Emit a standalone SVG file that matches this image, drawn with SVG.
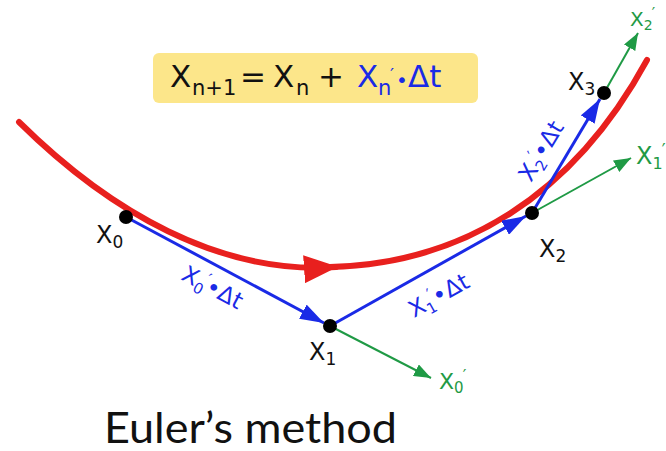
<svg xmlns="http://www.w3.org/2000/svg" width="666" height="451" viewBox="0 0 666 451">
<style>
.lbl{font-family:"DejaVu Sans",sans-serif;}
.blk{fill:#111;}
.blu{fill:#1a2ae6;}
.grn{fill:#1f9a45;}
.bl{stroke:#1a2ae6;stroke-width:3;fill:none;}
.gl{stroke:#1f9a45;stroke-width:2;fill:none;}
.dot{fill:#000;}
</style>
<defs>
<marker id="ab" viewBox="0 0 24 16" refX="24" refY="8" markerWidth="24" markerHeight="16" markerUnits="userSpaceOnUse" orient="auto"><path d="M0,0 L24,8 L0,16 z" fill="#1a2ae6"/></marker>
<marker id="ag" viewBox="0 0 17 13" refX="17" refY="6.5" markerWidth="17" markerHeight="13" markerUnits="userSpaceOnUse" orient="auto"><path d="M0,0 L17,6.5 L0,13 z" fill="#1f9a45"/></marker>
<marker id="ar" viewBox="0 0 34 28" refX="32" refY="14" markerWidth="34" markerHeight="28" markerUnits="userSpaceOnUse" orient="auto"><path d="M0,0 L34,14 L0,28 z" fill="#e8201e"/></marker>
</defs>
<rect width="666" height="451" fill="#fff"/>
<g id="formula">
<rect x="153" y="53" width="325" height="50" rx="6" fill="#fce68a"/>
<text class="lbl blk" font-size="31" y="87"><tspan x="170">X</tspan><tspan x="192" y="95" font-size="21">n+1</tspan><tspan x="240" y="87">=</tspan><tspan x="273">X</tspan><tspan x="296" y="95" font-size="21">n</tspan><tspan x="318" y="87">+</tspan></text>
<text class="lbl blu" font-size="31" y="87"><tspan x="357">X</tspan><tspan x="378" y="95" font-size="21">n</tspan><tspan x="390" y="81" font-size="18">′</tspan><tspan x="396" y="87" font-size="20">•</tspan><tspan x="408" font-size="31">Δt</tspan></text>
</g>
<g id="connectors">
<path d="M19,122 C 110,212 220,275 336,267" stroke="#e8201e" stroke-width="6" fill="none" stroke-linecap="round" marker-end="url(#ar)"/>
<path d="M330,267 C 460,264 572,198 647,60" stroke="#e8201e" stroke-width="6" fill="none" stroke-linecap="round"/>
<line class="bl" x1="126" y1="217" x2="324" y2="323" marker-end="url(#ab)"/>
<line class="bl" x1="330" y1="326" x2="526" y2="216" marker-end="url(#ab)"/>
<line class="bl" x1="532" y1="213" x2="600" y2="99" marker-end="url(#ab)"/>
<line class="gl" x1="330" y1="326" x2="431" y2="378" marker-end="url(#ag)"/>
<line class="gl" x1="532" y1="213" x2="631" y2="158" marker-end="url(#ag)"/>
<line class="gl" x1="604" y1="93" x2="638" y2="33" marker-end="url(#ag)"/>
</g>
<g id="x0"><circle class="dot" cx="126" cy="217" r="7"/><text class="lbl blk" font-size="24" x="96" y="243">X<tspan font-size="17" dy="5">0</tspan></text></g>
<g id="x1"><circle class="dot" cx="330" cy="326" r="7"/><text class="lbl blk" font-size="24" x="309" y="360">X<tspan font-size="17" dy="5">1</tspan></text></g>
<g id="x2"><circle class="dot" cx="532" cy="213" r="7"/><text class="lbl blk" font-size="24" x="539" y="257">X<tspan font-size="17" dy="5">2</tspan></text></g>
<g id="x3"><circle class="dot" cx="604" cy="93" r="7"/><text class="lbl blk" font-size="24" x="568" y="90">X<tspan font-size="17" dy="5">3</tspan></text></g>
<g id="step0"><text class="lbl blu" font-size="23" transform="translate(180,279) rotate(28)">X<tspan font-size="15" dy="5">0</tspan><tspan font-size="16" dx="-2" dy="-13">′</tspan><tspan dy="8">•Δt</tspan></text></g>
<g id="step1"><text class="lbl blu" font-size="23" transform="translate(414,318) rotate(-29)">X<tspan font-size="15" dy="5">1</tspan><tspan font-size="16" dx="-2" dy="-13">′</tspan><tspan dy="8">•Δt</tspan></text></g>
<g id="step2"><text class="lbl blu" font-size="23" transform="translate(531,183) rotate(-59)">X<tspan font-size="15" dy="5">2</tspan><tspan font-size="16" dx="-2" dy="-13">′</tspan><tspan dy="8">•Δt</tspan></text></g>
<g id="d0"><text class="lbl grn" font-size="22" x="439" y="389">X<tspan font-size="15" dy="4">0</tspan><tspan font-size="16" dx="-1" dy="-12">′</tspan></text></g>
<g id="d1"><text class="lbl grn" font-size="24" x="636" y="164">X<tspan font-size="16" dy="5">1</tspan><tspan font-size="17" dx="-1" dy="-13">′</tspan></text></g>
<g id="d2"><text class="lbl grn" font-size="20" x="630" y="26">X<tspan font-size="14" dy="4">2</tspan><tspan font-size="15" dx="-1" dy="-11">′</tspan></text></g>
<g id="title"><text font-family="Lato, 'Open Sans', sans-serif" font-size="42" x="104" y="443" fill="#111" textLength="293" lengthAdjust="spacingAndGlyphs">Euler’s method</text></g>
</svg>
